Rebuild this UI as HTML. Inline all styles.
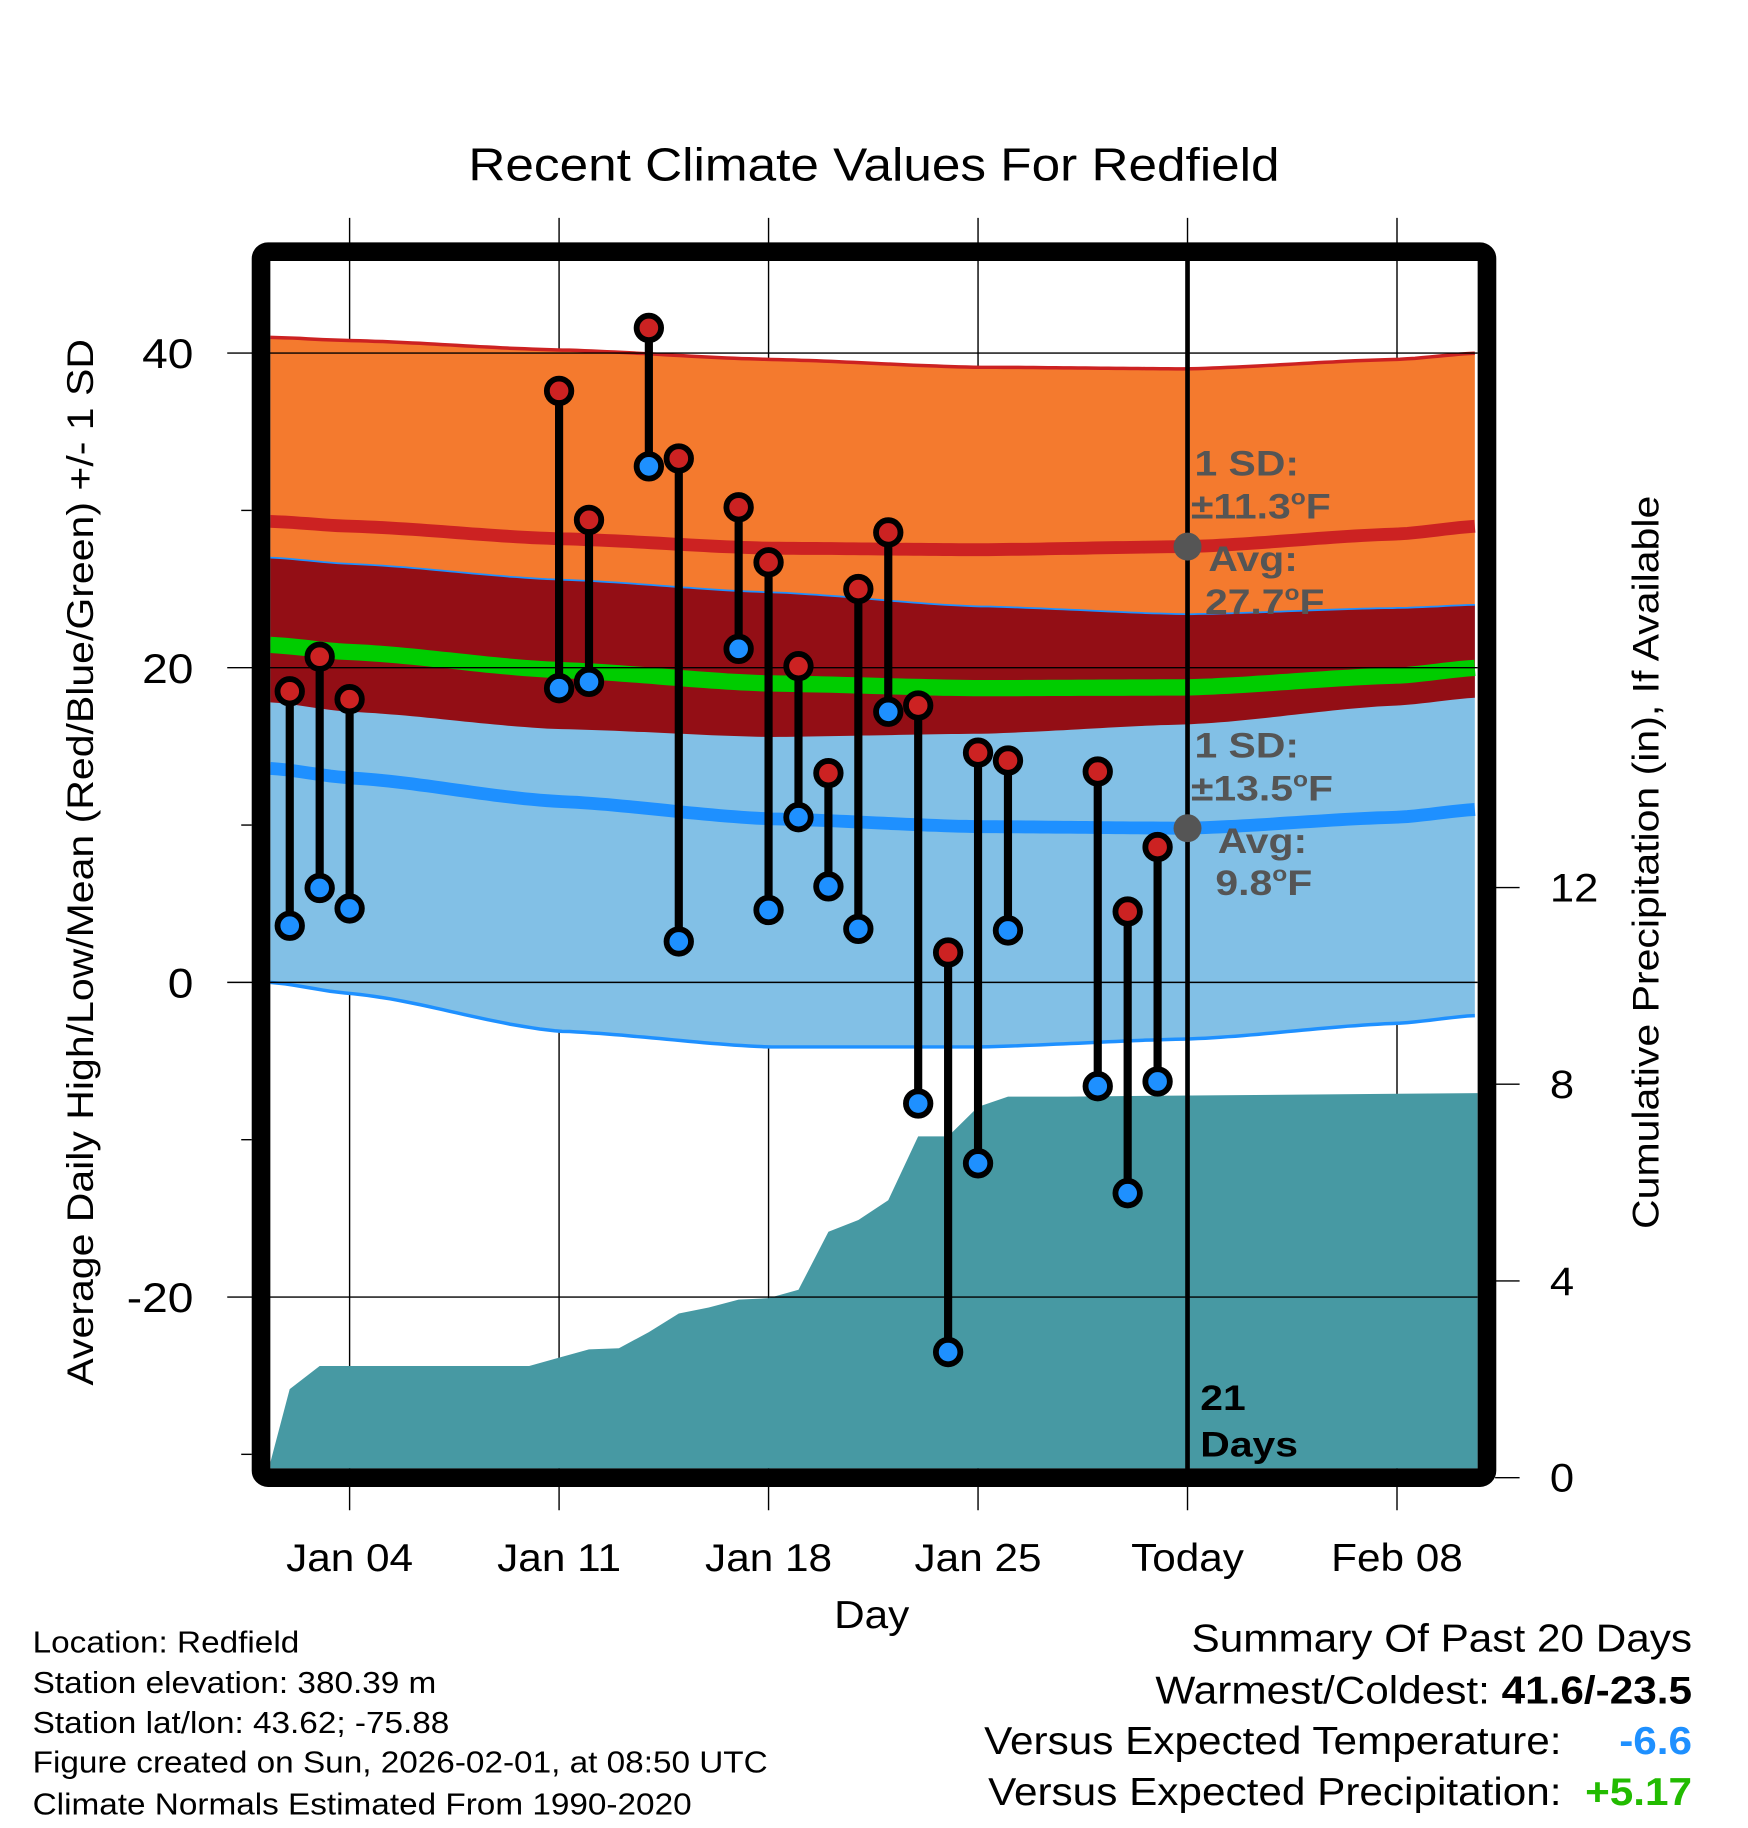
<!DOCTYPE html>
<html><head><meta charset="utf-8"><style>
html,body{margin:0;padding:0;background:#fff}
svg{display:block;font-family:"Liberation Sans",Arial,sans-serif}
</style></head><body>
<svg id="chart" width="1748" height="1828" viewBox="0 0 1500 1568.65" xmlns="http://www.w3.org/2000/svg">
<rect width="1500" height="1568.65" fill="#fff"/>
<defs><clipPath id="plotclip"><rect x="232" y="224" width="1036" height="1036"/></clipPath></defs>
<g id="grid"></g>
<g id="bands" clip-path="url(#plotclip)"></g>
<g id="hgrid"></g>
<g id="marks"></g>
<g id="axes"></g>
<text x="750" y="155" font-size="40" text-anchor="middle">Recent Climate Values For Redfield</text>
<text x="748" y="1397" font-size="33" text-anchor="middle">Day</text>
<text transform="translate(80,740) rotate(-90)" font-size="32" text-anchor="middle">Average Daily High/Low/Mean (Red/Blue/Green) +/- 1 SD</text>
<text transform="translate(1423,740) rotate(-90)" font-size="32" text-anchor="middle">Cumulative Precipitation (in), If Available</text>
<g class="bold-annot" font-size="30" font-weight="bold" fill="#555">
<text x="1025" y="408">1 SD:</text>
<text x="1022" y="445">±11.3<tspan font-size="18" dy="-12">o</tspan><tspan dy="12">F</tspan></text>
<text x="1037" y="490">Avg:</text>
<text x="1034" y="527">27.7<tspan font-size="18" dy="-12">o</tspan><tspan dy="12">F</tspan></text>
<text x="1025" y="650">1 SD:</text>
<text x="1022" y="687">±13.5<tspan font-size="18" dy="-12">o</tspan><tspan dy="12">F</tspan></text>
<text x="1045" y="732">Avg:</text>
<text x="1043" y="768">9.8<tspan font-size="18" dy="-12">o</tspan><tspan dy="12">F</tspan></text>
</g>
<g class="bold-annot" font-size="30" font-weight="bold" fill="#000">
<text x="1030" y="1210">21</text><text x="1030" y="1250">Days</text>
</g>
<g font-size="26" fill="#000">
<text x="28" y="1418">Location: Redfield</text>
<text x="28" y="1453">Station elevation: 380.39 m</text>
<text x="28" y="1487">Station lat/lon: 43.62; -75.88</text>
<text x="28" y="1521">Figure created on Sun, 2026-02-01, at 08:50 UTC</text>
<text x="28" y="1557">Climate Normals Estimated From 1990-2020</text>
</g>
<g font-size="33" fill="#000" text-anchor="end">
<text x="1452" y="1417">Summary Of Past 20 Days</text>
<text x="1452" y="1462">Warmest/Coldest: <tspan font-weight="bold">41.6/-23.5</tspan></text>
<text x="1340" y="1505">Versus Expected Temperature:</text>
<text x="1452" y="1505" font-weight="bold" fill="#1e90ff">-6.6</text>
<text x="1340" y="1549">Versus Expected Precipitation:</text>
<text x="1452" y="1549" font-weight="bold" fill="#22bb00">+5.17</text>
</g>
</svg>
<script>
// normals (day-of-January positions)
const normDays = [1.35, 4, 11, 18, 25, 32, 39, 41.7];
const highUpper = [41, 40.8, 40.2, 39.6, 39.1, 39, 39.6, 40];
const avgHigh = [29.3, 29.0, 28.2, 27.6, 27.5, 27.7, 28.5, 29];
const highLower = [17.8, 17.2, 16.1, 15.6, 15.8, 16.4, 17.6, 18.1];
const lowUpper = [27, 26.6, 25.6, 24.8, 23.9, 23.4, 23.8, 24];
const avgLow = [13.6, 13.0, 11.5, 10.4, 9.9, 9.8, 10.5, 11];
const lowLower = [0, -0.7, -3.1, -4.1, -4.1, -3.6, -2.6, -2.1];
// daily observations
const obsDays = [2,3,4,11,12,14,15,17,18,19,20,21,22,23,24,25,26,29,30,31];
const obsHigh = [18.5,20.7,18,37.6,29.4,41.6,33.3,30.2,26.7,20.1,13.3,25,28.6,17.6,1.9,14.6,14.1,13.4,4.5,8.6];
const obsLow = [3.6,6,4.7,18.7,19.1,32.8,2.6,21.2,4.6,10.5,6.1,3.4,17.2,-7.7,-23.5,-11.5,3.3,-6.6,-13.4,-6.3];
// cumulative precipitation
const precipDays = [1.35,2,3,10,11,12,13,14,15,16,17,18,19,20,21,22,23,24,25,26,28,41.7];
const precipVals = [0.3,1.8,2.27,2.27,2.44,2.61,2.63,2.96,3.34,3.46,3.62,3.65,3.82,5.0,5.24,5.64,6.94,6.94,7.54,7.75,7.75,7.82];
const xTickDays = [4,11,18,25,32,39];
const xTickLabels = ["Jan 04","Jan 11","Jan 18","Jan 25","Today","Feb 08"];
const yTicks = [40,20,0,-20];
const y2Ticks = [0,4,8,12];

const NS="http://www.w3.org/2000/svg";
const xS = d => 300 + (d-4)*25.68;
const yS = v => 843 - v*13.5;
const y2S = p => 1268 - p*42.2;
function mk(tag, attrs, parent){const e=document.createElementNS(NS,tag);for(const k in attrs)e.setAttribute(k,attrs[k]);parent.appendChild(e);return e;}
const interp=(xs,ys,d)=>{for(let i=0;i<xs.length-1;i++){if(d<=xs[i+1]){const t=(d-xs[i])/(xs[i+1]-xs[i]);
  const t2=t*t*(3-2*t)*0.5+t*0.5; return ys[i]+t2*(ys[i+1]-ys[i]);}}return ys[ys.length-1];};
const samples=[];for(let d=1.35;d<=41.71;d+=0.25)samples.push(d);
const line=(arr)=>samples.map(d=>xS(d).toFixed(1)+","+yS(interp(normDays,arr,d)).toFixed(1));
const band=(up,lo)=>"M"+line(up).join(" L")+" L"+line(lo).reverse().join(" L")+"Z";

const grid=document.getElementById('grid');
const bands=document.getElementById('bands');
const hgrid=document.getElementById('hgrid');
const marks=document.getElementById('marks');
const axes=document.getElementById('axes');

xTickDays.forEach((d,i)=>{
  const l=mk('line',{x1:xS(d),x2:xS(d),y1:187,y2:1296,stroke:'#000','stroke-width':1.2},grid);
  
  
  const t=mk('text',{x:xS(d),y:1348,'font-size':33,'text-anchor':'middle'},axes);
  t.textContent=xTickLabels[i];
  
  
});

let p;
p=mk('path',{d:band(highUpper,highLower),fill:'#f47a2e'},bands);


p=mk('path',{d:band(lowUpper,lowLower),fill:'#82c0e6'},bands);


p=mk('path',{d:band(lowUpper,highLower),fill:'#930e15'},bands);


const pp="M"+xS(precipDays[0])+",1262 "+precipDays.map((d,i)=>"L"+xS(d).toFixed(1)+","+y2S(precipVals[i]).toFixed(1)).join(" ")+" L1270,1262 Z";
p=mk('path',{d:pp,fill:'#4799a3'},bands);


p=mk('path',{d:"M"+line(highUpper).join(" L"),fill:'none',stroke:'#cc2222','stroke-width':3},bands);


p=mk('path',{d:"M"+line(lowUpper).join(" L"),fill:'none',stroke:'#1e90ff','stroke-width':1.5},bands);


p=mk('path',{d:"M"+line(lowLower).join(" L"),fill:'none',stroke:'#1e90ff','stroke-width':3},bands);


p=mk('path',{d:"M"+line(avgHigh).join(" L"),fill:'none',stroke:'#cc2222','stroke-width':11},bands);


p=mk('path',{d:"M"+line(avgLow).join(" L"),fill:'none',stroke:'#1e90ff','stroke-width':11},bands);


const meanArr=avgHigh.map((v,i)=>(v+avgLow[i])/2);
p=mk('path',{d:"M"+line(meanArr).join(" L"),fill:'none',stroke:'#00cc00','stroke-width':14},bands);



yTicks.forEach(v=>{
  const l=mk('line',{x1:195,x2:1268,y1:yS(v),y2:yS(v),stroke:'#000','stroke-width':1.2},hgrid);
  
  
  const t=mk('text',{x:166,y:yS(v)+13,'font-size':36,'text-anchor':'end'},axes);
  t.textContent=v;
  
  
});
[30,10,-10,-30].forEach(v=>{
  const l=mk('line',{x1:207,x2:216,y1:yS(v),y2:yS(v),stroke:'#000','stroke-width':1.2},axes);
  
  
});
y2Ticks.forEach(v=>{
  const l=mk('line',{x1:1283,x2:1304,y1:y2S(v),y2:y2S(v),stroke:'#000','stroke-width':1.2},axes);
  
  
  const t=mk('text',{x:1330,y:y2S(v)+12,'font-size':34},axes);
  t.textContent=v;
  
  
});

let tl=mk('line',{x1:xS(32),x2:xS(32),y1:222,y2:1262,stroke:'#000','stroke-width':4},marks);


let dot=mk('circle',{cx:xS(32),cy:yS(avgHigh[5]),r:12,fill:'#555'},marks);


dot=mk('circle',{cx:xS(32),cy:yS(avgLow[5]),r:12,fill:'#555'},marks);



obsDays.forEach((d,i)=>{
  const x=xS(d);
  const s=mk('line',{x1:x,x2:x,y1:yS(obsHigh[i]),y2:yS(obsLow[i]),stroke:'#000','stroke-width':7},marks);
  
  
  const h=mk('circle',{cx:x,cy:yS(obsHigh[i]),r:10.5,fill:'#cc2222',stroke:'#000','stroke-width':5},marks);
  
  
  const lo=mk('circle',{cx:x,cy:yS(obsLow[i]),r:10.5,fill:'#1e90ff',stroke:'#000','stroke-width':5},marks);
  
  
});

const fr=mk('rect',{x:224,y:216,width:1052,height:1052,rx:6,fill:'none',stroke:'#000','stroke-width':16},axes);



// widen text to match reference (Helvetica-like metrics)
document.querySelectorAll('#chart text').forEach(t=>{
  const bold=t.closest('.bold-annot');
  const f=bold?1.17:1.1;
  const w=t.getComputedTextLength();
  if(w>0){t.setAttribute('textLength',(w*f).toFixed(1));t.setAttribute('lengthAdjust','spacingAndGlyphs');}
});
</script>
</body></html>
